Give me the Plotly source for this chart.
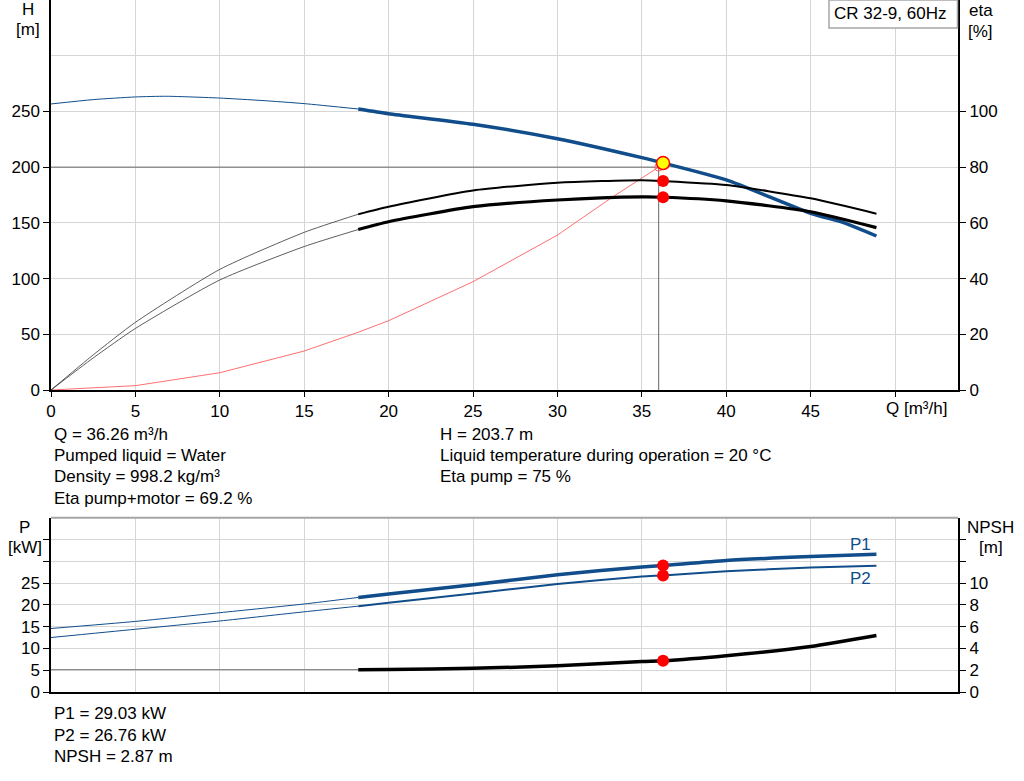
import plotly.graph_objects as go

# ---- data ----
# head curve H(Q): thin (outside allowed range) and thick parts
q_h_thin = [0, 2.5, 5, 6.85, 10, 12.5, 15, 18.2]
h_thin = [256.7, 260.6, 263.0, 263.6, 262.0, 259.8, 257.0, 252.2]
q_h_thick = [18.2, 20, 25, 30, 35, 36.26, 40, 45, 47, 48.9]
h_thick = [252.2, 248.0, 238.5, 225.5, 208.5, 203.7, 188.5, 158.6, 150.0, 138.2]

# efficiency curves [%]
q_eta_thin = [0, 2.5, 5, 10, 15, 18.2]
eta_pump_thin = [0, 12.6, 24.3, 43.3, 56.6, 63.1]
eta_tot_thin = [0, 11.5, 22.1, 39.5, 51.5, 57.6]
q_eta_thick = [18.2, 20, 25, 30, 35, 36.26, 40, 45, 48.9]
eta_pump_thick = [63.1, 65.8, 71.6, 74.4, 75.3, 75.0, 73.6, 68.8, 63.3]
eta_tot_thick = [57.6, 60.4, 65.8, 68.2, 69.3, 69.2, 67.9, 64.0, 58.3]

# system curve
q_sys = [0, 5, 10, 15, 18.2, 20, 25, 27.8, 30, 33.3, 36]
h_sys = [0, 3.9, 15.5, 35.0, 51.8, 62.2, 97.2, 120.3, 139.0, 173.5, 200.0]

# power curves [kW]
q_p_thin = [0, 5, 10, 15, 18.2]
p1_thin = [14.57, 16.2, 18.2, 20.2, 21.7]
p2_thin = [12.5, 14.4, 16.3, 18.4, 19.7]
q_p_thick = [18.2, 20, 25, 30, 35, 36.26, 40, 45, 48.9]
p1_thick = [21.7, 22.5, 24.6, 26.9, 28.7, 29.03, 30.2, 31.07, 31.6]
p2_thick = [19.7, 20.5, 22.6, 24.8, 26.5, 26.76, 27.7, 28.55, 29.0]

# NPSH [m]
q_npsh_thin = [0, 5, 10, 15, 18.2]
npsh_thin = [2.05, 2.05, 2.05, 2.05, 2.05]
q_npsh_thick = [18.2, 20, 25, 30, 35, 36.26, 40, 45, 48.9]
npsh_thick = [2.05, 2.06, 2.17, 2.41, 2.81, 2.87, 3.33, 4.18, 5.19]

# duty point (requested) and operating point
duty_q, duty_h = 36, 200
op_q, op_h = 36.26, 203.7
op_eta_pump, op_eta_tot = 75, 69.2
op_p1, op_p2, op_npsh = 29.03, 26.76, 2.87

info_left = ["Q = 36.26 m³/h", "Pumped liquid = Water",
             "Density = 998.2 kg/m³", "Eta pump+motor = 69.2 %"]
info_right = ["H = 203.7 m", "Liquid temperature during operation = 20 °C",
              "Eta pump = 75 %"]
info_bottom = ["P1 = 29.03 kW", "P2 = 26.76 kW", "NPSH = 2.87 m"]

BLUE = "#104d8a"
GRID = "#d6d6d6"
FONT = "Liberation Sans, Arial, sans-serif"
FS = 17

# plot area in pixels
L, R, T, B = 51, 66, 0, 89
W, H = 1024, 781
PW, PH = W - L - R, H - T - B


def px(x):
    return (x - L) / PW


def py(y):
    return (H - B - y) / PH


fig = go.Figure()


def line(x, y, xa, ya, color, width, shape="spline"):
    fig.add_trace(go.Scatter(x=x, y=y, xaxis=xa, yaxis=ya, mode="lines",
                             line=dict(color=color, width=width, shape=shape,
                                       smoothing=0.6),
                             hoverinfo="skip", showlegend=False))


def dot(x, y, xa, ya, fill="red", size=12, outline="red", lw=0):
    fig.add_trace(go.Scatter(x=[x], y=[y], xaxis=xa, yaxis=ya, mode="markers",
                             marker=dict(color=fill, size=size,
                                         line=dict(color=outline, width=lw)),
                             hoverinfo="skip", showlegend=False))


# top panel
line([0, duty_q], [duty_h, duty_h], "x", "y", "#666666", 1, "linear")
line([duty_q, duty_q], [0, duty_h], "x", "y", "#666666", 1, "linear")
line(q_sys, h_sys, "x", "y", "#ff4a4a", 0.8, "linear")
line(q_eta_thin, eta_pump_thin, "x", "y2", "#333333", 0.8)
line(q_eta_thin, eta_tot_thin, "x", "y2", "#333333", 0.8)
line(q_eta_thick, eta_pump_thick, "x", "y2", "black", 2)
line(q_eta_thick, eta_tot_thick, "x", "y2", "black", 3.2)
line(q_h_thin, h_thin, "x", "y", BLUE, 1)
line(q_h_thick, h_thick, "x", "y", BLUE, 3.5)
dot(duty_q, duty_h, "x", "y", fill="rgba(0,0,0,0)", size=8, outline="#ff6060", lw=1)
dot(op_q, op_eta_pump, "x", "y2")
dot(op_q, op_eta_tot, "x", "y2")
dot(op_q, op_h, "x", "y", fill="yellow", size=13, outline="red", lw=1.5)

# bottom panel
line(q_p_thin, p1_thin, "x2", "y3", BLUE, 1)
line(q_p_thin, p2_thin, "x2", "y3", BLUE, 1)
line(q_p_thick, p1_thick, "x2", "y3", BLUE, 3.5)
line(q_p_thick, p2_thick, "x2", "y3", BLUE, 2)
line(q_npsh_thin, npsh_thin, "x2", "y4", "#777777", 1, "linear")
line(q_npsh_thick, npsh_thick, "x2", "y4", "black", 3.5)
dot(op_q, op_p1, "x2", "y3")
dot(op_q, op_p2, "x2", "y3")
dot(op_q, op_npsh, "x2", "y4")

top_lo = py(390)
bot_hi = py(517.7)
xmax = 907 / 16.88
qticks = [0, 5, 10, 15, 20, 25, 30, 35, 40, 45, 50]

axis_common = dict(showgrid=True, gridcolor=GRID, gridwidth=1, zeroline=False,
                   showline=True, linecolor="black", linewidth=1.5,
                   tickfont=dict(size=FS, color="black", family=FONT),
                   tickcolor="black", ticks="outside", ticklen=6)

fig.update_layout(
    width=W, height=H,
    margin=dict(l=L, r=R, t=T, b=B),
    paper_bgcolor="white", plot_bgcolor="white",
    font=dict(family=FONT, size=FS, color="black"),
    showlegend=False,
    xaxis=dict(axis_common, domain=[0, 1], anchor="y", range=[0, xmax],
               tickvals=qticks, ticktext=[str(v) for v in qticks[:-1]] + [""],
               ticklen=5),
    yaxis=dict(axis_common, domain=[top_lo, 1], anchor="x", range=[0, 350],
               tickvals=[0, 50, 100, 150, 200, 250],
               minor=dict(tickvals=[300], showgrid=True, gridcolor=GRID, ticks="")),
    yaxis2=dict(axis_common, overlaying="y", side="right", anchor="x",
                range=[0, 140], tickvals=[0, 20, 40, 60, 80, 100],
                showgrid=False, linewidth=2),
    xaxis2=dict(axis_common, domain=[0, 1], anchor="y3", range=[0, xmax],
                tickvals=qticks, showticklabels=False, ticks=""),
    yaxis3=dict(axis_common, domain=[0, bot_hi], anchor="x2", range=[0, 40],
                tickvals=[0, 5, 10, 15, 20, 25, 30, 35],
                ticktext=["0", "5", "10", "15", "20", "25", "", ""]),
    yaxis4=dict(axis_common, overlaying="y3", side="right", anchor="x2",
                range=[0, 16], tickvals=[0, 2, 4, 6, 8, 10, 12, 14],
                ticktext=["0", "2", "4", "6", "8", "10", "", ""],
                showgrid=False, linewidth=2),
)

# top border of the lower panel
fig.add_shape(type="line", xref="paper", yref="paper", x0=0, x1=1,
              y0=bot_hi, y1=bot_hi, line=dict(color="#a6a6a6", width=2))

# pump name box
fig.add_shape(type="rect", xref="paper", yref="paper",
              x0=px(829), x1=px(957.5), y0=py(28), y1=py(0),
              fillcolor="white", line=dict(color="#a6a6a6", width=1.5))


def text(s, x, y, anchor="left", color="black"):
    fig.add_annotation(text=s, xref="paper", yref="paper", x=px(x), y=py(y),
                       xanchor=anchor, yanchor="middle", showarrow=False,
                       font=dict(size=FS, color=color, family=FONT))


text("CR 32-9, 60Hz", 832, 13)
text("H", 27.5, 9.5, "center")
text("[m]", 28, 30, "center")
text("eta", 981, 10, "center")
text("[%]", 981, 31, "center")
text("Q [m³/h]", 884, 408)
text("P", 24, 527.7, "center")
text("[kW]", 25, 547, "center")
text("NPSH", 990.5, 527.7, "center")
text("[m]", 990.5, 547, "center")
text("P1", 860, 544, "center", BLUE)
text("P2", 860, 578, "center", BLUE)

for i, s in enumerate(info_left):
    text(s, 51.5, 434.3 + i * 21.3)
for i, s in enumerate(info_right):
    text(s, 437.5, 434.3 + i * 21.3)
for i, s in enumerate(info_bottom):
    text(s, 51.5, 713.3 + i * 21.7)

# the page's default body margin would shift the chart by 8px
fig.write_html("out.html", config={"displayModeBar": False},
               post_script="document.body.style.margin='0';")
